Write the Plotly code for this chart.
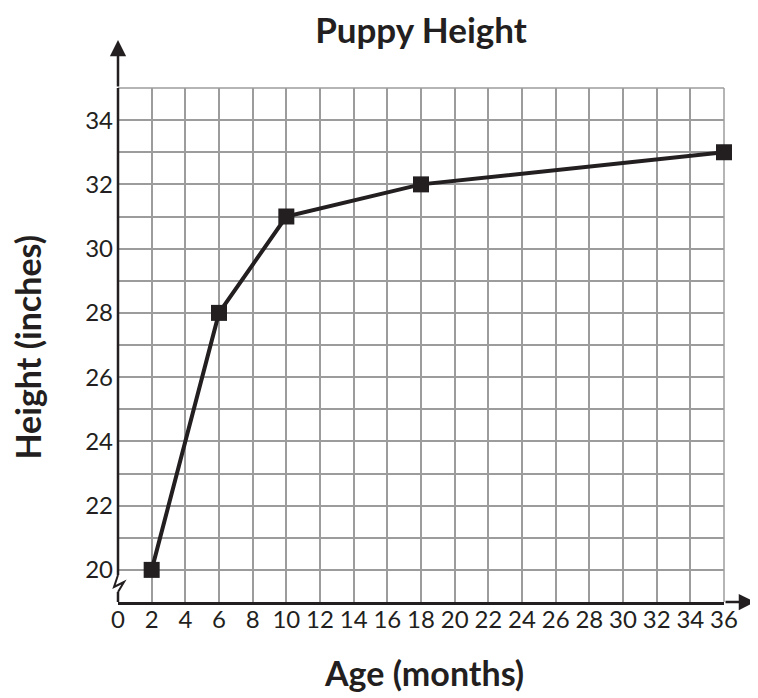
import plotly.graph_objects as go

# data
age_months = [2, 6, 10, 18, 36]
height_in = [20, 28, 31, 32, 33]

x_ticks = list(range(0, 37, 2))
y_ticks = list(range(20, 35, 2))
y_lo, y_hi = 19, 35

INK = "#231f20"
GRID = "#9c9c9c"
FONT = "Lato, 'DejaVu Sans', sans-serif"

# plot area size in px (the page body adds an 8px offset, so the figure is shrunk by 8)
W, H = 750, 690
ML, MR, MT, MB = 110, 34, 80, 96
PW, PH = W - ML - MR, H - MT - MB


def px_x(dx):
    return dx / PW


def px_y(dy):
    return dy / PH


fig = go.Figure()

fig.add_trace(go.Scatter(
    x=age_months, y=height_in,
    mode="lines+markers",
    line=dict(color=INK, width=4),
    marker=dict(symbol="square", size=16, color=INK),
    showlegend=False,
    cliponaxis=False,
))

# --- axes ---
fig.update_xaxes(
    range=[0, 36],
    tickmode="array", tickvals=x_ticks, ticktext=[str(v) for v in x_ticks],
    tickangle=0,
    showgrid=True, gridcolor=GRID, gridwidth=1.5,
    showline=True, linecolor=INK, linewidth=2.5,
    zeroline=False, ticks="",
    tickfont=dict(family=FONT, size=24, color=INK),
    ticklabelstandoff=-6,
)
fig.update_yaxes(
    range=[y_lo, y_hi],
    tickmode="array", tickvals=y_ticks, ticktext=[str(v) for v in y_ticks],
    showgrid=True, gridcolor=GRID, gridwidth=1.5,
    minor=dict(tick0=y_lo, dtick=1, showgrid=True, gridcolor=GRID, gridwidth=1.5),
    showline=False,
    zeroline=False, ticks="",
    tickfont=dict(family=FONT, size=24, color=INK),
    ticklabelstandoff=4,
)

# top / right border of the grid
fig.add_shape(type="line", xref="paper", yref="paper", x0=0, x1=1, y0=1, y1=1,
              line=dict(color=GRID, width=1.5), layer="below")
fig.add_shape(type="line", xref="paper", yref="paper", x0=1, x1=1, y0=0, y1=1,
              line=dict(color=GRID, width=1.5), layer="below")

# y axis line with a break just under 20
brk_bot, brk_top = px_y(10), px_y(27)
fig.add_shape(type="line", xref="paper", yref="paper", x0=0, x1=0, y0=0, y1=brk_bot,
              line=dict(color=INK, width=2.5), layer="above")
fig.add_shape(type="line", xref="paper", yref="paper", x0=0, x1=0, y0=brk_top, y1=1,
              line=dict(color=INK, width=2.5), layer="above")
zz = [(0, 27), (-4, 15), (6, 20), (0, 10)]
fig.add_shape(type="path", xref="paper", yref="paper",
              path="M" + " L".join(f"{px_x(a):.5f},{px_y(b):.5f}" for a, b in zz),
              line=dict(color=INK, width=2), layer="above")

# axis arrows running past the grid
fig.add_annotation(x=1 + px_x(31), y=0, xref="paper", yref="paper", ax=-31, ay=0,
                   text="", showarrow=True, arrowhead=2, arrowsize=1.3,
                   arrowwidth=2.5, arrowcolor=INK)
fig.add_annotation(x=0, y=1 + px_y(48), xref="paper", yref="paper", ax=0, ay=48,
                   text="", showarrow=True, arrowhead=2, arrowsize=1.3,
                   arrowwidth=2.5, arrowcolor=INK)

# axis titles
fig.add_annotation(x=-px_x(90), y=0.495, xref="paper", yref="paper",
                   xanchor="center", yanchor="middle",
                   text="Height (inches)", textangle=-90, showarrow=False,
                   font=dict(family=FONT, size=34, color=INK, weight="bold"))
fig.add_annotation(x=0.505, y=-px_y(70), xref="paper", yref="paper",
                   xanchor="center", yanchor="middle",
                   text="Age (months)", showarrow=False,
                   font=dict(family=FONT, size=34, color=INK, weight="bold"))

fig.update_layout(
    width=W, height=H,
    margin=dict(l=ML, r=MR, t=MT, b=MB),
    paper_bgcolor="white", plot_bgcolor="white",
    title=dict(text="Puppy Height", x=413 / W, xanchor="center",
               y=1 - 23 / H, yanchor="middle",
               font=dict(family=FONT, size=35, color=INK, weight="bold")),
)

fig.write_html("out.html")
